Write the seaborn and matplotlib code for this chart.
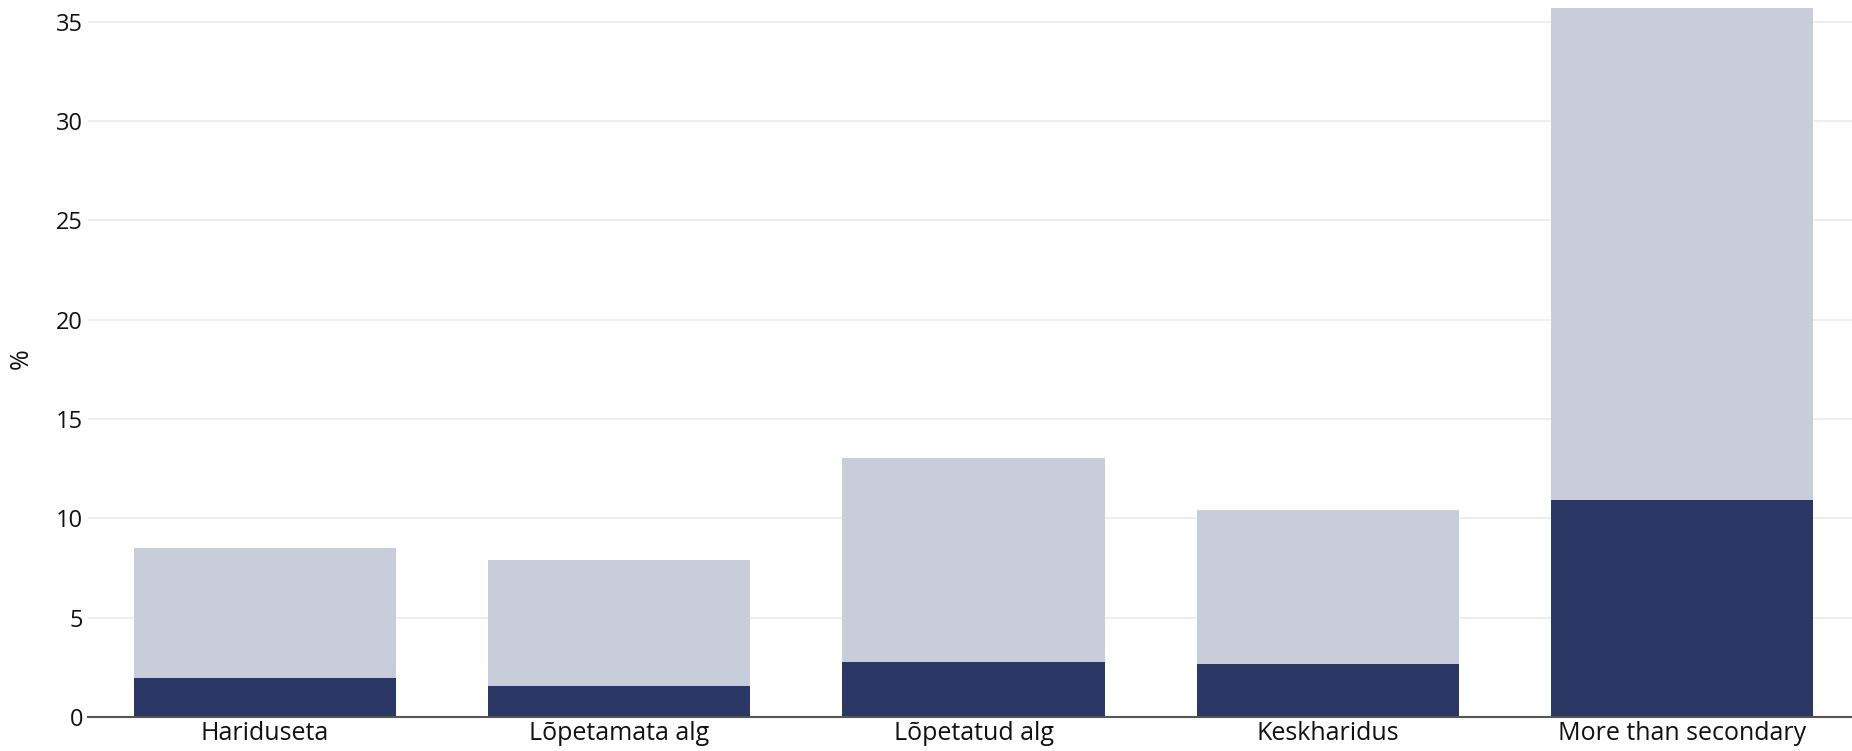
import matplotlib
matplotlib.use("Agg")
import matplotlib.pyplot as plt
import seaborn as sns
import pandas as pd

categories = ["Hariduseta", "Lõpetamata alg", "Lõpetatud alg", "Keskharidus", "More than secondary"]
total_values = [8.5, 7.9, 13.05, 10.4, 35.7]
dark_values = [1.95, 1.55, 2.75, 2.65, 10.95]
y_ticks = [0, 5, 10, 15, 20, 25, 30, 35]

sns.set_theme(style="white")
plt.rcParams['font.family'] = ['Open Sans', 'DejaVu Sans']

df = pd.DataFrame({"category": categories, "total": total_values, "dark": dark_values})

fig = plt.figure(figsize=(18.52, 7.51), dpi=100)
ax = fig.add_axes([88 / 1852, 34 / 751, 1 - 88 / 1852, 1 - 34 / 751])

# light bar = total, dark bar drawn over it from zero
sns.barplot(data=df, x="category", y="total", color="#c9ccd9", saturation=1,
            width=0.74, linewidth=0, edgecolor="none", ax=ax, zorder=2)
sns.barplot(data=df, x="category", y="dark", color="#2b3764", saturation=1,
            width=0.74, linewidth=0, edgecolor="none", ax=ax, zorder=3)

ax.set_xlim(-0.5, 4.48)
ax.set_ylim(0, 36.1)
ax.set_yticks(y_ticks)
ax.yaxis.grid(True, color="#eeeeee", linewidth=1.5, zorder=0)
ax.set_axisbelow(True)

for side in ["top", "right", "left"]:
    ax.spines[side].set_visible(False)
ax.spines["bottom"].set_color("#555555")
ax.spines["bottom"].set_linewidth(1.5)
ax.spines["bottom"].set_zorder(4)

ax.tick_params(axis="y", length=0, labelsize=17, colors="#111111")
ax.tick_params(axis="x", length=0, labelsize=18, colors="#111111", pad=3)
ax.set_xlabel("")
ax.set_ylabel("%", fontsize=18, labelpad=16, color="#111111")

fig.savefig("out.png", dpi=100)
